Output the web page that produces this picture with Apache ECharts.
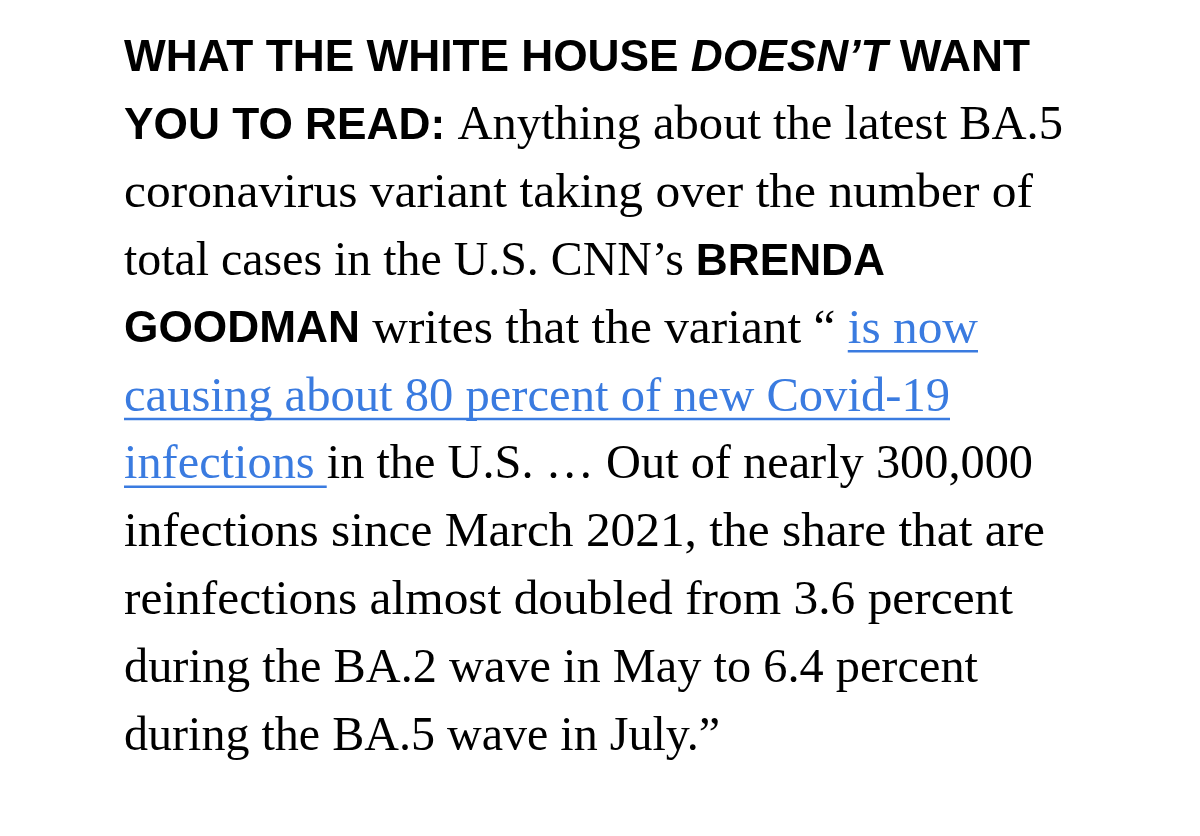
<!DOCTYPE html>
<html>
<head>
<meta charset="utf-8">
<script src="https://cdn.jsdelivr.net/npm/echarts@6/dist/echarts.min.js"></script>
<style>
  html, body { margin: 0; padding: 0; background: #fff; }
  #main { width: 1200px; height: 836px; }
</style>
</head>
<body>
<div id="main"></div>
<script>
// text of the paragraph, one entry per printed line: [style, text] segments
var lines = [
    [['bold', 'WHAT THE WHITE HOUSE '], ['boldItalic', 'DOESN’T'], ['bold', ' WANT']],
    [['bold', 'YOU TO READ: '], ['serif', 'Anything about the latest BA.5']],
    [['serif', 'coronavirus variant taking over the number of']],
    [['serif', 'total cases in the U.S. CNN’s '], ['bold', 'BRENDA']],
    [['bold', 'GOODMAN'], ['serif', ' writes that the variant “ '], ['link', 'is now']],
    [['link', 'causing about 80 percent of new Covid-19']],
    [['link', 'infections '], ['serif', 'in the U.S. … Out of nearly 300,000']],
    [['serif', 'infections since March 2021, the share that are']],
    [['serif', 'reinfections almost doubled from 3.6 percent']],
    [['serif', 'during the BA.2 wave in May to 6.4 percent']],
    [['serif', 'during the BA.5 wave in July.”']]
];

// layout
var leftX = 124;
var firstBaseline = 74;
var lineStep = 67.8;
var lineRight = [1030, 1063, 1033, 885, 978, 950, 1033, 1045, 1013, 978, 720];

var linkColor = '#3a7be0';
var fonts = {
    bold: 'bold 44px "Liberation Sans", Arial, sans-serif',
    boldItalic: 'italic bold 44px "Liberation Sans", Arial, sans-serif',
    serif: '48px "Liberation Serif", "Times New Roman", serif',
    link: '48px "Liberation Serif", "Times New Roman", serif'
};

var ctx = document.createElement('canvas').getContext('2d');
function textWidth(kind, str) {
    ctx.font = fonts[kind];
    return ctx.measureText(str).width;
}
function isSans(kind) {
    return kind === 'bold' || kind === 'boldItalic';
}

// the all-bold first line fixes the width of the sans face
var sansScale = (lineRight[0] - leftX) / lines[0].reduce(function (sum, s, j) {
    var t = j === lines[0].length - 1 ? s[1].replace(/\s+$/, '') : s[1];
    return sum + textWidth(s[0], t);
}, 0);

var elements = [];
lines.forEach(function (segs, i) {
    var baseline = firstBaseline + lineStep * i;
    // natural widths, without the trailing space of the last segment
    var sansW = 0, serifW = 0;
    segs.forEach(function (s, j) {
        var t = j === segs.length - 1 ? s[1].replace(/\s+$/, '') : s[1];
        if (isSans(s[0])) sansW += textWidth(s[0], t);
        else serifW += textWidth(s[0], t);
    });
    var serifScale = serifW > 0 ? (lineRight[i] - leftX - sansW * sansScale) / serifW : 1;
    var x = leftX;
    segs.forEach(function (s) {
        var sc = isSans(s[0]) ? sansScale : serifScale;
        var w = textWidth(s[0], s[1]) * sc;
        elements.push({
            type: 'text',
            x: x,
            y: baseline - 15,
            scaleX: sc,
            silent: true,
            style: {
                text: s[1],
                font: fonts[s[0]],
                fill: s[0] === 'link' ? linkColor : '#000',
                align: 'left',
                verticalAlign: 'middle'
            }
        });
        if (s[0] === 'link') {
            elements.push({
                type: 'line',
                silent: true,
                shape: { x1: x, y1: baseline + 6, x2: x + w, y2: baseline + 6 },
                style: { stroke: linkColor, lineWidth: 2.5 }
            });
        }
        x += w;
    });
});

var chart = echarts.init(document.getElementById('main'));
chart.setOption({
    backgroundColor: '#ffffff',
    animation: false,
    graphic: { elements: elements }
});
</script>
</body>
</html>
